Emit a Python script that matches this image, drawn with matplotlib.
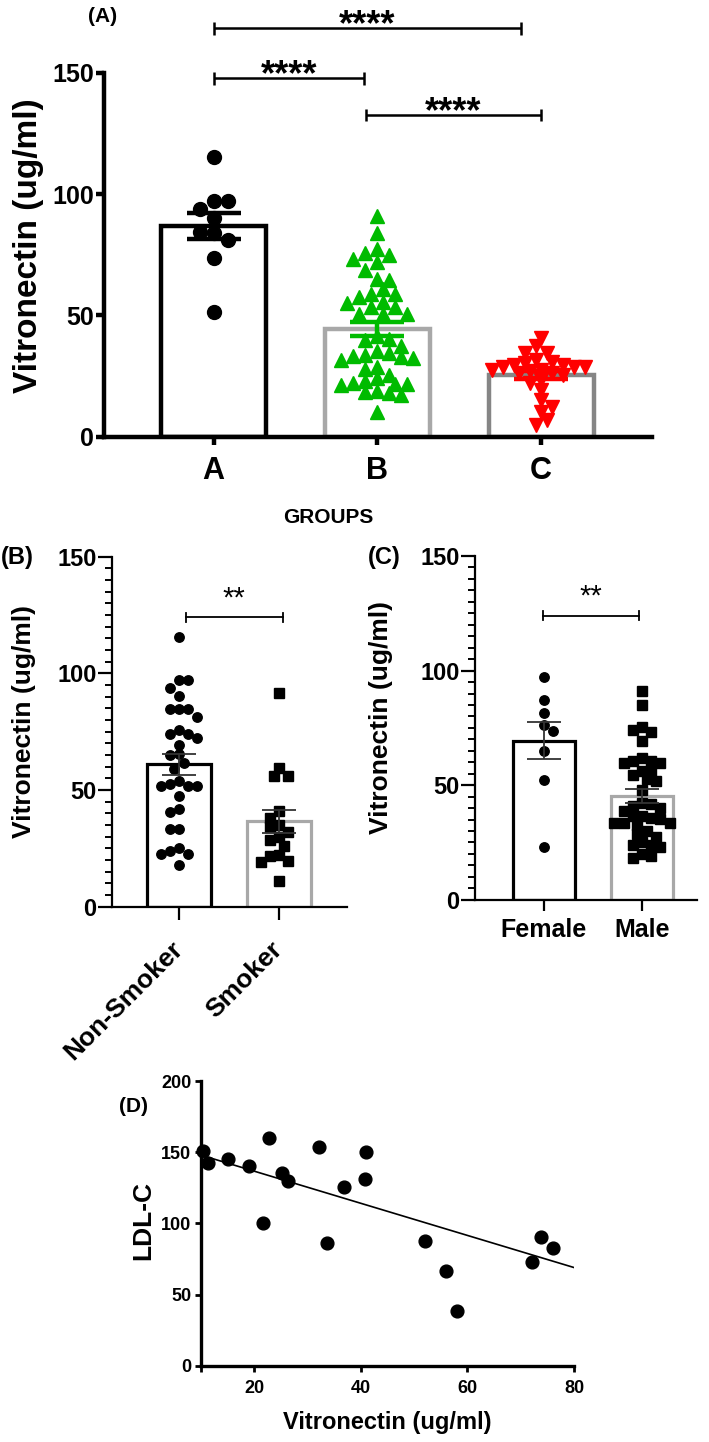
import numpy as np
import matplotlib
matplotlib.use('Agg')
import matplotlib.pyplot as plt
from matplotlib.ticker import MultipleLocator, FixedLocator

# ---------------- data ----------------
groups = ['A', 'B', 'C']
vn_group_a = [115.1, 97.1, 97.1, 93.7, 90.2, 84.1, 84.5, 81.2, 73.6, 51.5]
vn_group_b = [90.8, 83.9, 77.3, 74.8, 71.8, 73.1, 75.6, 68.7, 64.6, 64.9, 61.0, 57.5,
              58.6, 58.6, 55.5, 53.4, 53.4, 55.2, 50.4, 50.4, 50.4, 41.4, 40.3, 40.0,
              37.2, 34.5, 35.4, 33.5, 31.7, 32.4, 32.8, 33.1, 27.8, 28.9, 23.1, 21.8,
              22.0, 25.5, 21.8, 24.1, 21.3, 17.2, 18.6, 19.0, 18.2, 10.3]
vn_group_c = [40.7, 37.2, 34.5, 34.5, 31.7, 28.9, 29.6, 28.9, 29.6, 30.3, 30.6, 28.9,
              25.5, 26.2, 26.9, 26.2, 27.6, 27.6, 23.4, 19.3, 22.0, 15.1, 12.3, 10.3,
              6.8, 4.8]
sig_a = ['****', '****', '****']

smoking = ['Non-Smoker', 'Smoker']
vn_non_smoker = [115.4, 97.1, 97.1, 93.8, 90.4, 84.7, 84.6, 84.6, 81.4, 75.7, 73.9,
                 72.4, 73.9, 69.3, 65.4, 65.0, 61.7, 59.0, 54.0, 51.8, 51.8, 51.8,
                 52.4, 47.6, 41.9, 40.7, 33.2, 33.2, 25.0, 22.6, 23.9, 22.5, 17.9]
vn_smoker = [91.4, 59.3, 56.1, 55.9, 41.1, 37.9, 35.0, 32.1, 34.0, 29.7, 28.6, 26.0,
             22.2, 21.9, 19.7, 19.0, 11.0]
sig_smoking = '**'

sex = ['Female', 'Male']
vn_female = [97.1, 87.0, 81.7, 76.2, 73.6, 65.1, 52.2, 22.9]
vn_male = [91.3, 84.8, 75.5, 73.0, 74.0, 69.3, 61.8, 59.6, 60.4, 60.4, 59.6, 56.0,
           56.0, 54.6, 52.5, 52.0, 48.1, 42.4, 41.7, 40.9, 40.2, 38.8, 36.6, 36.6,
           35.9, 35.2, 33.7, 33.3, 33.7, 32.7, 30.1, 28.7, 27.2, 25.1, 22.9, 23.7,
           23.7, 20.1, 19.3, 18.3]
sig_sex = '**'

corr_vitronectin = [10.3, 11.25, 15.0, 19.1, 21.6, 22.8, 25.2, 26.4, 32.2, 33.6,
                    36.75, 40.7, 40.9, 52.0, 55.9, 58.1, 72.2, 73.9, 76.0]
corr_ldl = [151.1, 142.6, 145.0, 140.3, 100.5, 159.7, 135.1, 129.7, 153.9, 86.4,
            125.8, 130.9, 149.9, 87.8, 66.7, 38.6, 72.6, 90.6, 82.4]
# regression line as drawn in the reference (slope, intercept)
fit_slope = -1.128
fit_intercept = 159.2

# ---------------- figure ----------------
W, H, DPI = 709, 1442, 100
plt.rcParams['font.family'] = ['Liberation Sans', 'DejaVu Sans']
plt.rcParams['font.weight'] = 'bold'
fig = plt.figure(figsize=(W / DPI, H / DPI), dpi=DPI)
fig.patch.set_facecolor('white')


def px_axes(l, t, r, b):
    return fig.add_axes([l / W, 1 - b / H, (r - l) / W, (b - t) / H])


def mean_sem(v):
    v = np.asarray(v, float)
    return v.mean(), v.std(ddof=1) / np.sqrt(v.size)


def swarm(ax, xc, vals, min_px, step_px):
    vals = np.asarray(vals, float)
    disp = ax.transData.transform(np.column_stack([np.full(vals.size, xc), vals]))
    x0, ys = disp[0, 0], disp[:, 1]
    xs = np.zeros(vals.size)
    placed = []
    cands = [0]
    for j in range(1, 60):
        cands += [j, -j]
    for n, i in enumerate(np.argsort(-ys)):
        sgn = 1 if n % 2 == 0 else -1
        for c in cands:
            x = x0 + sgn * c * step_px
            if all((x - px) ** 2 + (ys[i] - py) ** 2 >= min_px ** 2 for px, py in placed):
                break
        placed.append((x, ys[i]))
        xs[i] = x
    return ax.transData.inverted().transform(np.column_stack([xs, ys]))[:, 0]


def style_axes(ax, lw):
    for s in ['top', 'right']:
        ax.spines[s].set_visible(False)
    for s in ['left', 'bottom']:
        ax.spines[s].set_linewidth(lw)
        ax.spines[s].set_capstyle('projecting')
    ax.set_facecolor('none')


def bracket(ax, x1, x2, y, cap, lw, text, ty, fs, weight):
    kw = dict(color='black', lw=lw, clip_on=False, solid_capstyle='butt')
    ax.plot([x1, x2], [y, y], **kw)
    ax.plot([x1, x1], [y - cap, y + cap], **kw)
    ax.plot([x2, x2], [y - cap, y + cap], **kw)
    ax.text((x1 + x2) / 2, ty, text, ha='center', va='baseline', fontsize=fs,
            fontweight=weight, clip_on=False)


# ================= Panel A =================
axA = px_axes(104, 72.7, 652, 436.7)
axA.set_xlim(-0.669, 2.677)
axA.set_ylim(0, 150)
style_axes(axA, 3.2)
xA = np.arange(len(groups))
dataA = [vn_group_a, vn_group_b, vn_group_c]
edgeA = ['black', '#a8a8a8', '#858585']
ptcol = ['black', '#00bb00', '#ff0000']
mk = ['o', '^', 'v']
msz = [10, 9.8, 9.8]
swarm_min = [14, 10.5, 9.5]
swarm_step = [14, 6, 5.5]
for i, vals in enumerate(dataA):
    m, s = mean_sem(vals)
    axA.bar(xA[i], m, width=0.642, color='white', edgecolor=edgeA[i], linewidth=3.2, zorder=1)
    xs = swarm(axA, xA[i], vals, swarm_min[i], swarm_step[i])
    axA.plot(xs, vals, ls='none', marker=mk[i], ms=msz[i], color=ptcol[i],
             mec=ptcol[i], zorder=2, clip_on=False)
    axA.errorbar(xA[i], m, yerr=s, color=ptcol[i], elinewidth=3.2, capsize=19.5,
                 capthick=3.2, zorder=3)
axA.set_xticks(xA)
axA.set_xticklabels(groups)
axA.set_yticks([0, 50, 100, 150])
axA.tick_params(axis='y', length=6, width=3.2, labelsize=18, pad=1)
axA.tick_params(axis='x', length=6, width=3.2, labelsize=22, pad=8)
bracket(axA, 0, 1.875, 168.3, 2.6, 1.8, sig_a[0], 165.5, 26, 'bold')
bracket(axA, 0, 0.92, 147.7, 2.6, 1.8, sig_a[1], 144.9, 26, 'bold')
bracket(axA, 0.93, 2.0, 132.5, 2.6, 1.8, sig_a[2], 129.7, 26, 'bold')
fig.text(103 / W, 1 - 17 / H, '(A)', ha='center', va='center', fontsize=15, fontweight='bold')
fig.text(29 / W, 1 - 246 / H, 'Vitronectin (ug/ml)', rotation=90, ha='center',
         va='center', fontsize=24, fontweight='bold')
fig.text(328 / W, 1 - 517 / H, 'GROUPS', ha='center', va='center', fontsize=15,
         fontweight='bold')


def small_bar_panel(ax, labels, datasets, markers, edges, xlim, bracket_x, sig):
    ax.set_xlim(*xlim)
    ax.set_ylim(0, 150)
    style_axes(ax, 1.6)
    x = np.arange(len(labels))
    for i, vals in enumerate(datasets):
        m, s = mean_sem(vals)
        ax.bar(x[i], m, width=0.635, color='white', edgecolor=edges[i], linewidth=2.3, zorder=1)
        xs = swarm(ax, x[i], vals, 9.0, 4.6)
        ax.plot(xs, vals, ls='none', marker=markers[i], ms=6.8, color='black',
                zorder=2, clip_on=False)
        ax.errorbar(x[i], m, yerr=s, color='#333333', elinewidth=1.3, capsize=12,
                    capthick=1.3, zorder=3)
    ax.set_xticks(x)
    ax.set_yticks([0, 50, 100, 150])
    ax.yaxis.set_minor_locator(MultipleLocator(5))
    ax.tick_params(axis='y', which='major', length=10, width=1.6, labelsize=17, pad=1)
    ax.tick_params(axis='y', which='minor', length=5, width=1.4)
    kw = dict(color='black', lw=1.3, clip_on=False)
    y = 124.0
    ax.plot(bracket_x, [y, y], **kw)
    for bx in bracket_x:
        ax.plot([bx, bx], [y - 1.8, y + 1.8], **kw)
    ax.text(np.mean(bracket_x), y + 4.6, sig, ha='center', va='baseline', fontsize=21,
            fontweight='normal')


# ================= Panel B =================
axB = px_axes(112, 556.7, 347, 906.7)
small_bar_panel(axB, smoking, [vn_non_smoker, vn_smoker], ['o', 's'],
                ['black', '#a8a8a8'], (-0.67, 1.68), [0.067, 1.037], sig_smoking)
axB.set_xticklabels(smoking, rotation=45, ha='right', va='center',
                    rotation_mode='anchor')
axB.tick_params(axis='x', length=9, width=1.6, labelsize=19, pad=19)
fig.text(17 / W, 1 - 557 / H, '(B)', ha='center', va='center', fontsize=17, fontweight='bold')
fig.text(24 / W, 1 - 722 / H, 'Vitronectin (ug/ml)', rotation=90, ha='center',
         va='center', fontsize=19, fontweight='bold')

# ================= Panel C =================
axC = px_axes(475, 556, 697, 899.8)
small_bar_panel(axC, sex, [vn_female, vn_male], ['o', 's'],
                ['black', '#a8a8a8'], (-0.70, 1.56), [-0.01, 0.97], sig_sex)
axC.set_xticklabels(sex)
axC.tick_params(axis='x', length=8, width=1.6, labelsize=18, pad=5)
fig.text(384 / W, 1 - 557 / H, '(C)', ha='center', va='center', fontsize=17, fontweight='bold')
fig.text(381 / W, 1 - 718 / H, 'Vitronectin (ug/ml)', rotation=90, ha='center',
         va='center', fontsize=19, fontweight='bold')

# ================= Panel D =================
axD = px_axes(201, 1081, 574, 1365.7)
axD.set_xlim(10, 80)
axD.set_ylim(0, 200)
style_axes(axD, 2.4)
axD.plot(corr_vitronectin, corr_ldl, ls='none', marker='o', ms=9.2, color='black',
         clip_on=False, zorder=3)
xx = np.array(axD.get_xlim())
axD.plot(xx, fit_slope * xx + fit_intercept, color='black', lw=1.2, zorder=2)
axD.set_xticks([20, 40, 60, 80])
axD.xaxis.set_minor_locator(FixedLocator([10]))
axD.set_yticks([0, 50, 100, 150, 200])
axD.tick_params(axis='both', which='major', length=4, width=2.0, labelsize=13, pad=3)
axD.tick_params(axis='x', which='major', pad=6)
axD.tick_params(axis='x', which='minor', length=4, width=2.0)
fig.text(134 / W, 1 - 1107 / H, '(D)', ha='center', va='center', fontsize=15, fontweight='bold')
fig.text(143 / W, 1 - 1220 / H, 'LDL-C', rotation=90, ha='center', va='center',
         fontsize=19, fontweight='bold')
fig.text(387 / W, 1 - 1423 / H, 'Vitronectin (ug/ml)', ha='center', va='center',
         fontsize=17, fontweight='bold')

fig.savefig('out.png', dpi=DPI, facecolor='white')
